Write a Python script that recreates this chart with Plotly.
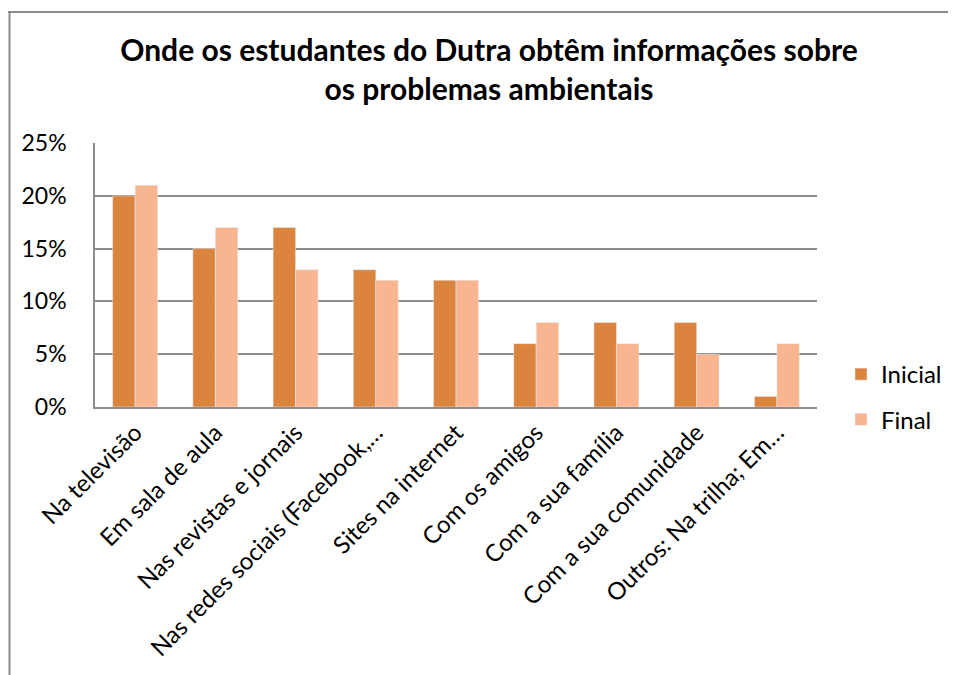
import plotly.graph_objects as go

categories = ["Na televisão", "Em sala de aula", "Nas revistas e jornais",
              "Nas redes sociais (Facebook,…", "Sites na internet", "Com os amigos",
              "Com a sua família", "Com a sua comunidade", "Outros: Na trilha; Em…"]
inicial = [0.20, 0.15, 0.17, 0.13, 0.12, 0.06, 0.08, 0.08, 0.01]
final = [0.21, 0.17, 0.13, 0.12, 0.12, 0.08, 0.06, 0.05, 0.06]
y_ticks = [0, 0.05, 0.10, 0.15, 0.20, 0.25]
y_labels = ["0%", "5%", "10%", "15%", "20%", "25%"]

FONT = "Lato, Open Sans, sans-serif"
OFF = 8  # browser body margin
W, H = 956 - OFF, 675 - OFF
L, T = 95 - OFF, 143 - OFF
R = W - (817 - OFF)
B = H - (407 - OFF)
pw, ph = W - L - R, H - T - B

def px_x(p):  # reference pixel -> paper
    return (p - OFF - L) / pw

def px_y(p):
    return (H - B - (p - OFF)) / ph

fig = go.Figure()
fig.add_trace(go.Bar(x=categories, y=inicial, name="Inicial", marker_color="#DA843E",
                     legendgroup="a"))
fig.add_trace(go.Bar(x=categories, y=final, name="Final", marker_color="#F8B590",
                     legendgroup="b"))

fig.update_layout(
    width=W, height=H,
    margin=dict(l=L, r=R, t=T, b=B, autoexpand=False),
    paper_bgcolor="white", plot_bgcolor="white",
    font=dict(family=FONT, color="black"),
    barmode="group", bargap=0.44, bargroupgap=0,
    title=dict(text="<b>Onde os estudantes do Dutra obtêm informações sobre<br>os problemas ambientais</b>",
               xref="container", yref="container",
               x=(489 - OFF) / W, xanchor="center",
               y=1 - (61 - OFF) / H, yanchor="middle",
               font=dict(size=30, family=FONT)),
    legend=dict(x=px_x(841), y=px_y(352), xanchor="left", yanchor="top",
                traceorder="grouped", tracegroupgap=11,
                font=dict(size=24, family=FONT), bgcolor="rgba(0,0,0,0)"),
    xaxis=dict(tickangle=-45, tickfont=dict(size=24, family=FONT),
               showline=True, linecolor="#8C8C8C", linewidth=2,
               showgrid=False, ticks="", automargin=False),
    yaxis=dict(range=[0, 0.25], tickvals=y_ticks, ticktext=y_labels,
               tickfont=dict(size=23, family=FONT),
               showgrid=True, gridcolor="#8C8C8C", gridwidth=1.5,
               showline=True, linecolor="#8C8C8C", linewidth=1.5,
               zeroline=False, ticks="", ticklabelstandoff=22, automargin=False),
    shapes=[
        dict(type="line", xref="paper", yref="paper", x0=px_x(9.5), x1=px_x(9.5),
             y0=px_y(12), y1=px_y(700), line=dict(color="#8C8C8C", width=2)),
        dict(type="line", xref="paper", yref="paper", x0=px_x(8), x1=px_x(980),
             y0=px_y(12), y1=px_y(12), line=dict(color="#8C8C8C", width=2)),
    ],
)

fig.write_html("out.html")
